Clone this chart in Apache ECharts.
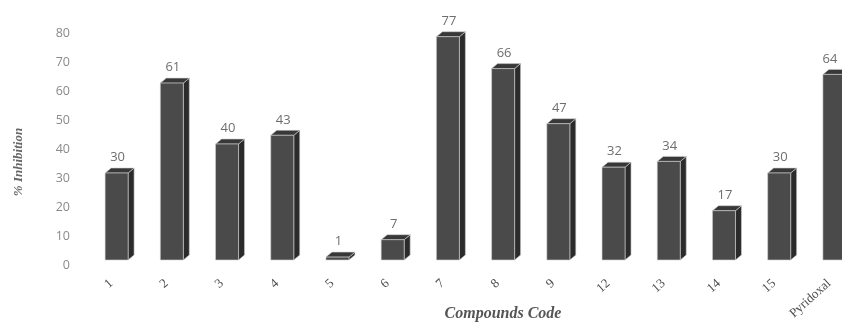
<!DOCTYPE html>
<html>
<head>
<meta charset="utf-8">
<script src="https://cdn.jsdelivr.net/npm/echarts@6/dist/echarts.min.js"></script>
<style>
  html, body { margin: 0; padding: 0; background: #ffffff; }
  #chart { width: 842px; height: 322px; }
</style>
</head>
<body>
<div id="chart"></div>
<script>
// Compounds tested and their % inhibition
const categories = ['1', '2', '3', '4', '5', '6', '7', '8', '9', '12', '13', '14', '15', 'Pyridoxal'];
const inhibition = [30, 61, 40, 43, 1, 7, 77, 66, 47, 32, 34, 17, 30, 64];
const yTicks = { min: 0, max: 80, interval: 10 };

// Pseudo-3D column look
const FRONT_W = 23;   // width of the front face
const DEPTH_X = 6;    // horizontal extrusion
const DEPTH_Y = 5;    // vertical extrusion
const LIFT = 5;       // columns sit slightly above the value-axis baseline

const chart = echarts.init(document.getElementById('chart'), null, { renderer: 'canvas' });

function renderColumn(params, api) {
  const idx = api.value(0);
  const val = api.value(1);
  const base = api.coord([idx, 0]);
  const top = api.coord([idx, val]);
  const x0 = base[0] - FRONT_W / 2;
  const x1 = base[0] + FRONT_W / 2;
  const yb = base[1] - LIFT;
  const yt = top[1] - LIFT;
  const edge = { stroke: '#d0d0d0', lineWidth: 0.6 };
  // keep the value label inside the canvas for the last column
  const labelX = Math.min(base[0] + 1, api.getWidth() - 12);
  return {
    type: 'group',
    children: [
      { // right side
        type: 'polygon',
        shape: { points: [[x1, yt], [x1 + DEPTH_X, yt - DEPTH_Y], [x1 + DEPTH_X, yb - DEPTH_Y], [x1, yb]] },
        style: Object.assign({ fill: '#2b2b2b' }, edge)
      },
      { // top
        type: 'polygon',
        shape: { points: [[x0, yt], [x0 + DEPTH_X, yt - DEPTH_Y], [x1 + DEPTH_X, yt - DEPTH_Y], [x1, yt]] },
        style: Object.assign({ fill: '#383838' }, edge)
      },
      { // front
        type: 'rect',
        shape: { x: x0, y: yt, width: FRONT_W, height: yb - yt },
        style: Object.assign({ fill: '#4a4a4a' }, edge)
      },
      { // value label
        type: 'text',
        style: {
          text: String(val),
          x: labelX,
          y: yt - DEPTH_Y - 4,
          align: 'center',
          verticalAlign: 'bottom',
          fill: '#6e6e6e',
          font: '13px "Open Sans", sans-serif'
        }
      }
    ]
  };
}

chart.setOption({
  animation: false,
  backgroundColor: '#ffffff',
  grid: { left: 89, top: 33, width: 773, height: 232, outerBoundsMode: 'none', containLabel: false },
  xAxis: {
    type: 'category',
    data: categories,
    axisLine: { show: false },
    axisTick: { show: false },
    axisLabel: {
      rotate: 42,
      margin: 12,
      interval: 0,
      padding: [0, 7, 0, 0],
      color: '#4e4e4e',
      fontFamily: '"Liberation Serif", serif',
      fontSize: 13
    },
    name: 'Compounds Code',
    nameLocation: 'middle',
    nameGap: 41,
    nameMoveOverlap: false,
    nameTextStyle: {
      color: '#555555',
      fontFamily: '"Liberation Serif", serif',
      fontStyle: 'italic',
      fontWeight: 'bold',
      fontSize: 16,
      padding: [0, 0, 0, 55]
    }
  },
  yAxis: {
    type: 'value',
    min: yTicks.min,
    max: yTicks.max,
    interval: yTicks.interval,
    axisLine: { show: false },
    axisTick: { show: false },
    splitLine: { show: false },
    axisLabel: {
      margin: 19,
      color: '#8a8a8a',
      fontFamily: '"Open Sans", sans-serif',
      fontSize: 12.5
    },
    name: '% Inhibition',
    nameLocation: 'middle',
    nameGap: 64,
    nameRotate: 90,
    nameTextStyle: {
      color: '#666666',
      fontFamily: '"Liberation Serif", serif',
      fontStyle: 'italic',
      fontWeight: 'bold',
      fontSize: 13,
      padding: [0, 26, 0, 0]
    }
  },
  series: [{
    type: 'custom',
    renderItem: renderColumn,
    encode: { x: 0, y: 1 },
    data: inhibition.map((v, i) => [i, v]),
    clip: false
  }]
});
</script>
</body>
</html>
